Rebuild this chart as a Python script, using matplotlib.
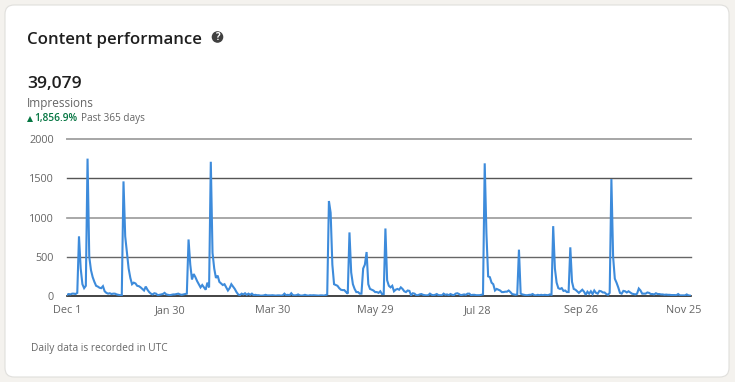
import numpy as np
import matplotlib
matplotlib.use("Agg")
import matplotlib.pyplot as plt
from matplotlib.patches import FancyBboxPatch, Circle

# daily impressions, split by stretch of the year
dec_values = [15, 25, 20, 30, 30, 25, 40, 760, 350, 150, 100, 130, 1750, 500, 330, 240, 180,
              130, 120, 105, 100, 125, 60, 40, 30, 35, 25, 30, 30, 20, 15, 10, 10]
jan_values = [1460, 760, 550, 350, 230, 150, 170, 160, 130, 125, 110, 90, 70, 120, 80, 50, 30,
              20, 35, 30, 10, 15, 20, 25, 40, 20, 15, 10, 15, 20, 20, 25, 30, 20, 15, 20, 25, 30]
feb_values = [720, 400, 210, 280, 240, 190, 150, 110, 140, 110, 80, 170, 110,
              1710, 550, 350, 230, 260, 180, 160, 140, 150, 110, 70, 100, 150, 120, 90, 50, 20, 10,
              30, 20, 35, 15, 30, 15, 30, 10, 15, 10, 10, 5, 5, 8]
mar_values = [15, 8, 8, 8, 10, 8, 5, 8, 8, 5, 8, 30, 10, 15, 8, 35, 10, 8, 10, 20, 8, 5, 8,
              15, 8, 5, 10, 8, 10, 8, 5, 5, 8, 8, 5, 10, 20]
apr_values = [1210, 1060, 400, 150, 140, 130, 100, 80, 75, 75, 50, 30,
              810, 300, 150, 90, 50, 50, 30, 30, 350, 400, 560, 150, 90, 80, 70, 50, 50, 40, 60, 25, 25,
              860, 200, 130, 110, 130, 60, 80, 90, 80, 110, 90, 60, 50, 70, 65, 10]
jun_values = [35, 30, 10, 10, 20, 25, 15, 10, 8, 10, 30, 15, 10, 15, 25, 10, 10, 8, 30, 15, 20, 10, 25, 15, 10, 30,
              35, 25, 10, 15, 20, 15, 30, 30, 10, 15, 15, 10, 10, 10, 15, 20]
jul_values = [1690, 800, 250, 240, 170, 150, 70, 90, 80, 70, 50, 50, 55, 55, 70, 50, 25, 20, 15, 20,
              590, 30, 20, 15, 10, 10, 15, 15, 25, 10, 8, 15, 10, 15, 10, 15, 12, 10, 20, 15, 890]
sep_values = [350, 170, 100, 90, 100, 65, 70, 50, 50, 620, 180, 90, 80, 60, 40, 60, 80, 55, 15, 55, 30, 60, 25,
              70, 40, 30, 65, 60, 45, 45, 25, 15, 40]
oct_values = [1490, 500, 220, 170, 110, 40, 30, 65, 60, 45, 60, 45, 30, 25, 20, 30, 95, 70, 30, 30, 30, 45,
              40, 25, 25, 20, 35, 25, 25, 20, 20, 15, 18, 15, 15, 12, 12, 12, 10, 25, 8, 8, 8, 8, 20, 8, 5]

values = dec_values + jan_values + feb_values + mar_values + apr_values + jun_values + jul_values + sep_values + oct_values

x_ticks = [0, 60, 120, 180, 240, 300, 360]
x_labels = ["Dec 1", "Jan 30", "Mar 30", "May 29", "Jul 28", "Sep 26", "Nov 25"]
y_ticks = [0, 500, 1000, 1500, 2000]
grid_colors = ["#222222", "#666666", "#999999", "#555555", "#a6a6a6"]
grid_widths = [1.2, 1.0, 1.2, 1.0, 1.4]

W, H = 735, 382
fig = plt.figure(figsize=(W / 100, H / 100), dpi=100, facecolor="#f4f2ee")
plt.rcParams["font.family"] = ["Open Sans", "DejaVu Sans"]


def fx(px):
    return px / W


def fy(py):
    return 1 - py / H


# card
bg = fig.add_axes([0, 0, 1, 1])
bg.set_xlim(0, W)
bg.set_ylim(H, 0)
bg.axis("off")
bg.add_patch(FancyBboxPatch((5, 5), 724, 372, boxstyle="round,pad=0,rounding_size=9",
                            facecolor="white", edgecolor="#e0dfdc", linewidth=0.8))

# header text
fig.text(fx(27), fy(40), "Content performance", fontsize=12.1, color="#1f1f1f", va="center", fontweight="semibold")
bg.add_patch(Circle((217.5, 37), 5.8, facecolor="#404040", edgecolor="none"))
bg.text(217.5, 37.2, "?", color="white", fontsize=7, fontweight="bold", ha="center", va="center")
fig.text(fx(27), fy(84), "39,079", fontsize=12.6, color="#1f1f1f", va="center", fontweight="semibold")
fig.text(fx(27), fy(103), "Impressions", fontsize=8.5, color="#666666", va="center")
bg.plot([30.5], [118.5], marker="^", markersize=3.8, color="#057642", markeredgewidth=0)
fig.text(fx(34), fy(118), "1,856.9%", fontsize=7.3, color="#057642", va="center", fontweight="semibold")
fig.text(fx(81), fy(118), "Past 365 days", fontsize=7.2, color="#666666", va="center")
fig.text(fx(31), fy(348), "Daily data is recorded in UTC", fontsize=7.3, color="#666666", va="center")

# chart
ax = fig.add_axes([fx(67), fy(296), (691 - 67) / W, (296 - 139) / H])
ax.patch.set_alpha(0)
for t, c, w in zip(y_ticks, grid_colors, grid_widths):
    ax.axhline(t, color=c, linewidth=w, zorder=1, clip_on=False)
ax.plot(np.arange(len(values)), values, color="#3d8bdb", linewidth=1.5, zorder=2, solid_joinstyle="miter")
ax.set_xlim(0, 364.5)
ax.set_ylim(0, 2000)
ax.set_xticks(x_ticks)
ax.set_xticklabels(x_labels)
ax.set_yticks(y_ticks)
ax.tick_params(length=0, labelsize=7.8, labelcolor="#666666")
ax.tick_params(axis="x", pad=6.3)
ax.tick_params(axis="y", pad=9.4)
for s in ax.spines.values():
    s.set_visible(False)

fig.savefig("out.png", dpi=100, facecolor=fig.get_facecolor())
